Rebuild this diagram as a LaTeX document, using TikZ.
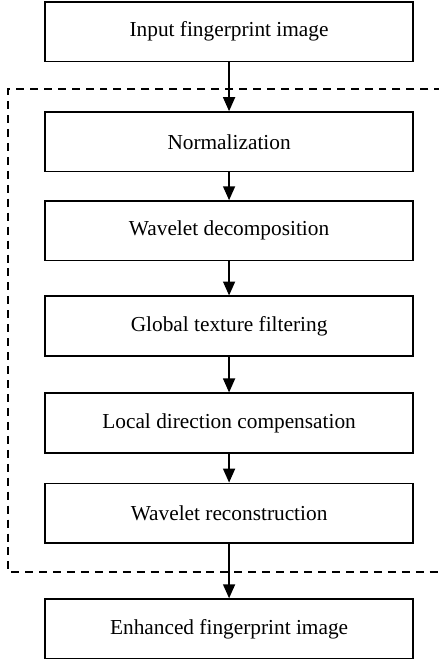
\documentclass[tikz,border=0pt]{standalone}
\usepackage{fontspec}
\setmainfont{Liberation Serif}
\usetikzlibrary{arrows.meta}

\begin{document}
\begin{tikzpicture}[
	stagebox/.style={draw, line width=0.8pt, minimum width=6.49cm, minimum height=1.05cm, inner sep=0pt, font=\fontsize{10.7}{13}\selectfont},
	flow/.style={line width=0.8pt, -{Triangle[width=6pt,length=7pt]}}]
	\useasboundingbox (0,0) rectangle (7.73,11.71);
	\draw [dashed, line width=0.8pt, dash pattern=on 4pt off 3pt] (7.8,10.14) -- (0.14,10.14) -- (0.14,1.62) -- (7.8,1.62);
	\node[stagebox] (input) at (4.04,11.15) {Input fingerprint image};
	\node[stagebox] (norm) at (4.04,9.21) {Normalization};
	\node[stagebox] (decomp) at (4.04,7.64) {Wavelet decomposition};
	\node[stagebox] (global) at (4.04,5.96) {Global texture filtering};
	\node[stagebox] (local) at (4.04,4.25) {Local direction compensation};
	\node[stagebox] (recon) at (4.04,2.66) {Wavelet reconstruction};
	\node[stagebox] (output) at (4.04,0.62) {Enhanced fingerprint image};
	\draw [flow] (input) -- (norm);
	\draw [flow] (norm) -- (decomp);
	\draw [flow] (decomp) -- (global);
	\draw [flow] (global) -- (local);
	\draw [flow] (local) -- (recon);
	\draw [flow] (recon) -- (output);
\end{tikzpicture}
\end{document}
